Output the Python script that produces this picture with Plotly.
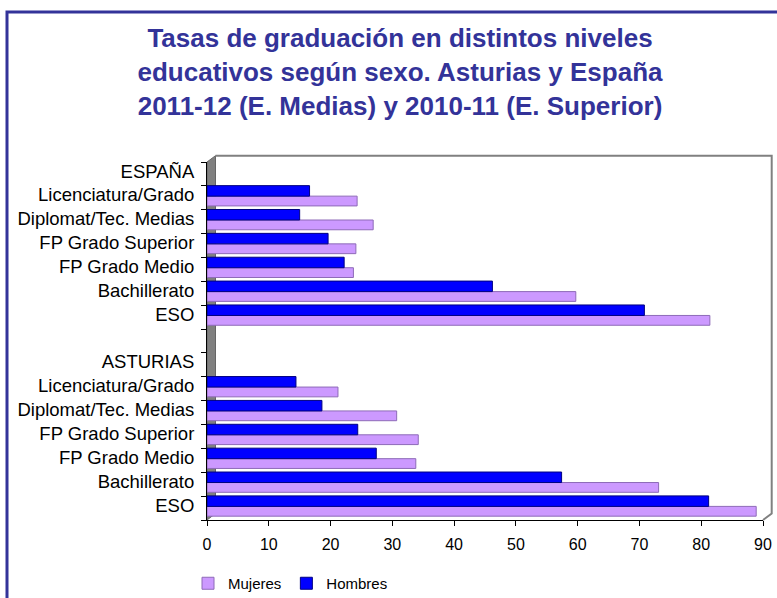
"""Tasas de graduación por sexo, Asturias y España (barras horizontales)."""
import plotly.graph_objects as go

FRAME = "#333399"
TITLE_C = "#333399"
WALL = "#808080"
MUJ = "#CC99FF"
MUJ_EDGE = "#8E6BB8"
HOM = "#0000FF"
HOM_EDGE = "#000080"
FONT = "Liberation Sans, Arial, sans-serif"

# categories, top to bottom as drawn
CATEGORIAS = [
    "ESPAÑA", "Licenciatura/Grado", "Diplomat/Tec. Medias", "FP Grado Superior",
    "FP Grado Medio", "Bachillerato", "ESO", "",
    "ASTURIAS", "Licenciatura/Grado", "Diplomat/Tec. Medias", "FP Grado Superior",
    "FP Grado Medio", "Bachillerato", "ESO",
]
# None = header / spacer rows with no bars
HOMBRES = [None, 16.6, 15.0, 19.6, 22.2, 46.2, 70.8, None,
           None, 14.4, 18.6, 24.4, 27.4, 57.4, 81.2]
MUJERES = [None, 24.3, 26.9, 24.1, 23.7, 59.7, 81.4, None,
           None, 21.2, 30.7, 34.2, 33.8, 73.1, 88.9]
X_TICKS = [0, 10, 20, 30, 40, 50, 60, 70, 80, 90]

pos = list(range(len(CATEGORIAS)))

fig = go.Figure()
fig.add_trace(go.Bar(
    name="Mujeres", y=pos, x=MUJERES, orientation="h",
    offset=-0.07, width=0.41,
    marker=dict(color=MUJ, line=dict(color=MUJ_EDGE, width=1)),
))
fig.add_trace(go.Bar(
    name="Hombres", y=pos, x=HOMBRES, orientation="h",
    offset=-0.51, width=0.44,
    marker=dict(color=HOM, line=dict(color=HOM_EDGE, width=1)),
))

# plot area in px: x 207..763, y 162..520  -> paper helpers
def px(x):
    return (x - 207) / 556


def py(y):
    return (520 - y) / 358


wall = (f"M {px(207)} {py(162)} L {px(215.5)} {py(155.7)} "
        f"L {px(215.5)} {py(513.5)} L {px(207)} {py(520)} Z")
back = (f"M {px(215.5)} {py(155.7)} L {px(771.7)} {py(155.7)} "
        f"L {px(771.7)} {py(513.5)} L {px(763)} {py(520)}")

fig.update_layout(
    width=777, height=598,
    paper_bgcolor="white", plot_bgcolor="white",
    font=dict(family=FONT, color="black", size=16),
    margin=dict(l=207, r=14, t=162, b=78, autoexpand=False),
    barmode="overlay",
    title=dict(
        text=("<b>Tasas de graduación en distintos niveles<br>"
              "educativos según sexo. Asturias y España<br>"
              "2011-12 (E. Medias) y 2010-11 (E. Superior)</b>"),
        font=dict(family=FONT, size=26, color=TITLE_C),
        x=400 / 777, xanchor="center", xref="container",
        y=1 - 47 / 598, yanchor="top", yref="container",
    ),
    legend=dict(
        orientation="h", traceorder="normal",
        x=188 / 777, xanchor="left", xref="container",
        y=(598 - 567) / 598, yanchor="top", yref="container",
        font=dict(size=15), itemwidth=30,
        bgcolor="rgba(0,0,0,0)",
    ),
    shapes=[
        dict(type="path", path=wall, xref="paper", yref="paper",
             fillcolor=WALL, line=dict(color="#666666", width=1), layer="below"),
        dict(type="path", path=back, xref="paper", yref="paper",
             line=dict(color=WALL, width=2), layer="below"),
        dict(type="rect", xref="paper", yref="paper",
             x0=px(7), y0=py(12), x1=px(800), y1=py(640),
             line=dict(color=FRAME, width=3)),
    ],
)

fig.update_xaxes(
    range=[0, 90], tickvals=X_TICKS, ticks="outside", ticklen=5,
    tickcolor="black", showline=True, linecolor="black", linewidth=1,
    showgrid=False, zeroline=False, tickfont=dict(size=16),
    ticklabelstandoff=5, automargin=False,
)
fig.update_yaxes(
    range=[len(CATEGORIAS) - 0.5, -0.5],
    tickmode="array", tickvals=[p - 0.12 for p in pos], ticktext=CATEGORIAS,
    ticks="", showline=True, linecolor="black", linewidth=1,
    showgrid=False, zeroline=False, tickfont=dict(size=18.5),
    ticklabelstandoff=8, automargin=False,
    minor=dict(tickmode="linear", tick0=-0.5, dtick=1, ticks="outside",
               ticklen=5, tickcolor="black", showgrid=False),
)

# page body has a default 8px margin; drop it so the figure sits at 0,0
fig.write_html("out.html", config={"displayModeBar": False},
               post_script="document.body.style.margin='0';")
